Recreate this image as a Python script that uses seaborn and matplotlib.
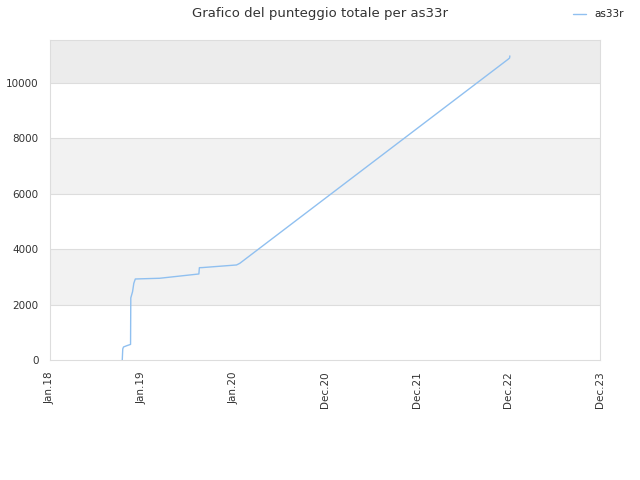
import pandas as pd
import matplotlib
matplotlib.use("Agg")
import matplotlib.pyplot as plt
import seaborn as sns

# dates and total score
dates = [
    "2018-10-16", "2018-10-18", "2018-10-21", "2018-11-03", "2018-11-18",
    "2018-11-19", "2018-11-26", "2018-12-01", "2018-12-07", "2019-03-14",
    "2019-08-17", "2019-08-19", "2019-08-30", "2020-01-14", "2020-01-27",
    "2022-12-31", "2023-01-05", "2023-01-06",
]
scores = [
    0, 400, 470, 516, 563,
    2240, 2466, 2770, 2924, 2950,
    3105, 3332, 3335, 3430, 3490,
    10860, 10900, 10975,
]
tick_dates = ["2018-01-01", "2019-01-01", "2020-01-01", "2020-12-31",
              "2021-12-31", "2022-12-31", "2023-12-31"]
tick_labels = ["Jan.18", "Jan.19", "Jan.20", "Dec.20", "Dec.21", "Dec.22", "Dec.23"]

df = pd.DataFrame({"date": pd.to_datetime(dates), "score": scores})

sns.set_style("white")
plt.rcParams['font.family'] = ['DejaVu Sans']

fig = plt.figure(figsize=(6.4, 4.8), dpi=100)
ax = fig.add_axes([0.078, 0.25, 0.8595, 0.6667])

# alternating background bands
ymax = 11550
band_colors = ["#ffffff", "#f2f2f2", "#ffffff", "#f2f2f2", "#ffffff", "#ececec"]
for i, c in enumerate(band_colors):
    ax.axhspan(i * 2000, min((i + 1) * 2000, ymax), color=c, zorder=0, lw=0)
for y in range(2000, 12000, 2000):
    ax.axhline(y, color="#dddddd", lw=0.8, zorder=1)

sns.lineplot(data=df, x="date", y="score", ax=ax, color="#90c0f0",
             lw=1.0, label="as33r", zorder=3)

ax.set_xlim(pd.Timestamp("2018-01-01"), pd.Timestamp("2023-12-31"))
ax.set_ylim(0, ymax)
ax.set_xticks(pd.to_datetime(tick_dates))
ax.set_xticklabels(tick_labels, rotation=90)
ax.set_yticks(range(0, 12000, 2000))
ax.tick_params(labelsize=7.5, colors="#333333", length=0, pad=8)
ax.set_xlabel("")
ax.set_ylabel("")
for s in ax.spines.values():
    s.set_color("#dddddd")
    s.set_linewidth(0.8)

fig.suptitle("Grafico del punteggio totale per as33r", fontsize=9.5,
             color="#333333", x=0.5, y=0.985)
leg = ax.legend(loc="upper right", bbox_to_anchor=(1.06, 1.125), frameon=False,
                fontsize=7.5, handlelength=1.2)
for t in leg.get_texts():
    t.set_color("#222222")

fig.savefig("out.png", dpi=100)
